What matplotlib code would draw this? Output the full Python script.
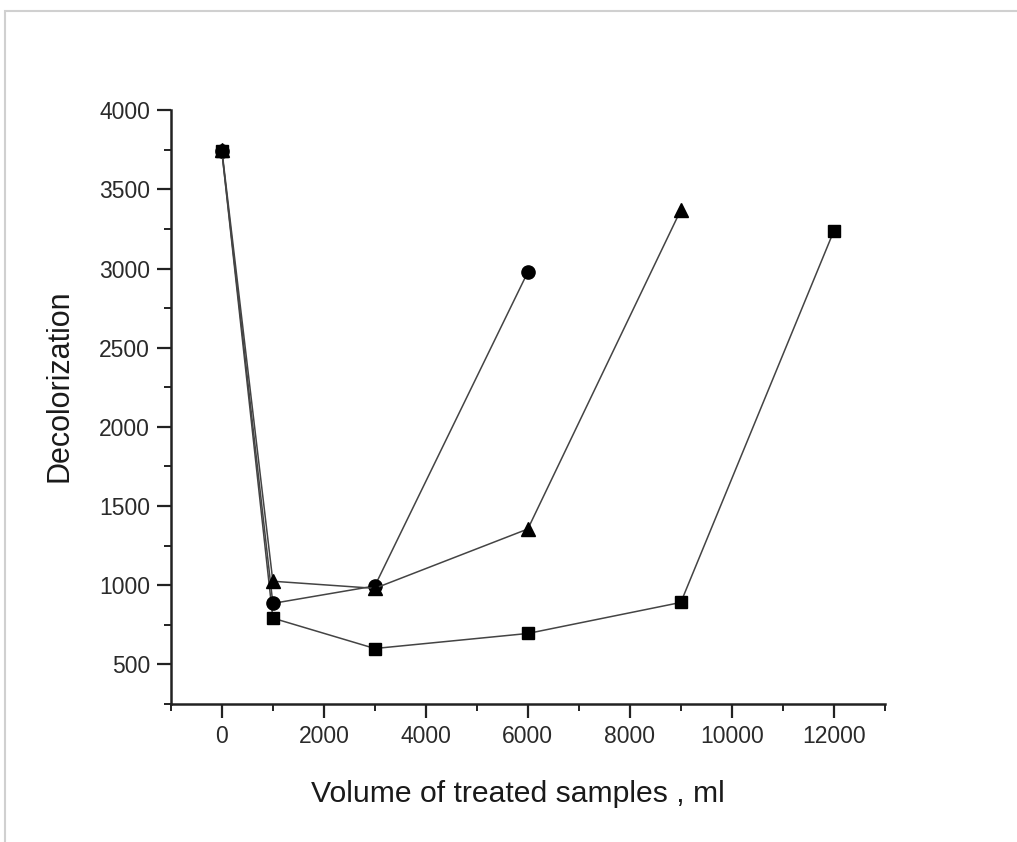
import matplotlib
matplotlib.use("Agg")
import matplotlib.pyplot as plt
from matplotlib.ticker import MultipleLocator
from matplotlib.patches import Rectangle

plt.rcParams['font.family'] = ['Liberation Sans', 'DejaVu Sans']

# data
x_circle = [0, 1000, 3000, 6000]
y_circle = [3740, 885, 995, 2978]

x_triangle = [0, 1000, 3000, 6000, 9000]
y_triangle = [3750, 1025, 980, 1355, 3370]

x_square = [0, 1000, 3000, 6000, 9000, 12000]
y_square = [3740, 792, 600, 695, 891, 3237]

W, H = 1017, 842
fig = plt.figure(figsize=(W / 100, H / 100), dpi=100)
# faint screenshot frame
fig.patches.append(Rectangle((0.005, -0.1), 1.2, 1.087, transform=fig.transFigure,
                             fill=False, edgecolor='#d0d0d0', linewidth=1.5))
ax = fig.add_axes([0.168, 0.164, 0.702, 0.705])

line_kw = dict(color='#444444', linewidth=1.1, markerfacecolor='black',
               markeredgecolor='black')
ax.plot(x_square, y_square, marker='s', markersize=9, **line_kw)
ax.plot(x_circle, y_circle, marker='o', markersize=9.5, **line_kw)
ax.plot(x_triangle, y_triangle, marker='^', markersize=10.5, **line_kw)

ax.set_xlim(-1000, 13000)
ax.set_ylim(250, 4000)
ax.xaxis.set_minor_locator(MultipleLocator(1000))
ax.yaxis.set_minor_locator(MultipleLocator(250))
ax.set_xticks(range(0, 12001, 2000))
ax.set_yticks(range(500, 4001, 500))

for side in ('top', 'right'):
    ax.spines[side].set_visible(False)
for side in ('left', 'bottom'):
    ax.spines[side].set_linewidth(1.8)
    ax.spines[side].set_color('#222222')

ax.tick_params(which='major', direction='out', length=10, width=1.6,
               labelsize=16.5, labelcolor='#2a2a2a', color='#222222', pad=5)
ax.tick_params(which='minor', direction='out', length=5, width=1.4, color='#222222')

fig.text(518 / W, 1 - 802 / H, 'Volume of treated samples , ml', fontsize=21.7,
         color='#1a1a1a', ha='center', va='baseline')
fig.text(60 / W, 1 - 386 / H, 'Decolorization', fontsize=22, color='#1a1a1a',
         rotation=90, ha='center', va='center')

fig.savefig('out.png', dpi=100, facecolor='white')
